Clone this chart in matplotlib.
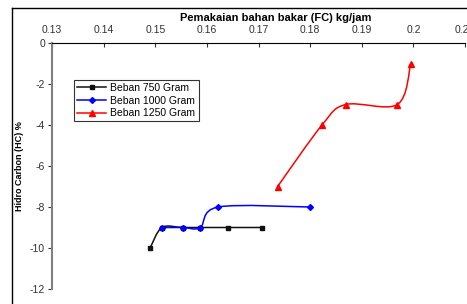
import numpy as np
import matplotlib
matplotlib.use('Agg')
import matplotlib.pyplot as plt
from matplotlib.path import Path
from matplotlib.patches import PathPatch
from matplotlib.lines import Line2D

plt.rcParams['font.family'] = ['Liberation Sans', 'DejaVu Sans']
plt.rcParams['axes.unicode_minus'] = False

# data
fc_750 = [0.1490, 0.1513, 0.1553, 0.1587, 0.1640, 0.1706]
hc_750 = [-10, -9, -9, -9, -9, -9]
fc_1000 = [0.1513, 0.1553, 0.1587, 0.1622, 0.1800]
hc_1000 = [-9, -9, -9, -8, -8]
fc_1250 = [0.1737, 0.1823, 0.1869, 0.1969, 0.1995]
hc_1250 = [-7, -4, -3, -3, -1]

x_ticks = [0.13, 0.14, 0.15, 0.16, 0.17, 0.18, 0.19, 0.2, 0.21]
x_labels = ['0.13', '0.14', '0.15', '0.16', '0.17', '0.18', '0.19', '0.2', '0.21']
y_ticks = [0, -2, -4, -6, -8, -10, -12]


def smooth_path(xs, ys):
    # Excel-style smoothed line: cubic bezier with catmull-rom tangents
    pts = np.column_stack([xs, ys]).astype(float)
    verts = [pts[0]]
    codes = [Path.MOVETO]
    n = len(pts)
    for i in range(n - 1):
        p0 = pts[i - 1] if i > 0 else pts[i]
        p1 = pts[i]
        p2 = pts[i + 1]
        p3 = pts[i + 2] if i + 2 < n else pts[i + 1]
        c1 = p1 + (p2 - p0) / 6.0
        c2 = p2 - (p3 - p1) / 6.0
        verts += [c1, c2, p2]
        codes += [Path.CURVE4] * 3
    return Path(verts, codes)


fig = plt.figure(figsize=(4.67, 3.04), dpi=100)
ax = fig.add_axes([52 / 467, 1 - 289 / 304, (465 - 52) / 467, (289 - 43) / 304])

series = [
    (fc_750, hc_750, '#111111', 's', 'Beban 750 Gram', 3.5),
    (fc_1000, hc_1000, '#0000ff', 'D', 'Beban 1000 Gram', 3),
    (fc_1250, hc_1250, '#ff0000', '^', 'Beban 1250 Gram', 4.5),
]
for xs, ys, c, m, lab, ms in series:
    ax.add_patch(PathPatch(smooth_path(xs, ys), facecolor='none', edgecolor=c, lw=1.1))
    ax.plot(xs, ys, linestyle='none', marker=m, color=c, markersize=ms)
    ax.plot([], [], color=c, marker=m, markersize=ms, lw=1.1, label=lab)

ax.set_xlim(0.13, 0.21)
ax.set_ylim(-12, 0)
ax.xaxis.tick_top()
ax.set_xticks(x_ticks)
ax.set_xticklabels(x_labels)
ax.set_yticks(y_ticks)
ax.tick_params(axis='x', direction='in', length=3, labelsize=7.5, colors='#333333', pad=6)
ax.tick_params(axis='y', direction='out', length=3, labelsize=7.5, colors='#333333', pad=2)
ax.spines['right'].set_visible(False)
ax.spines['bottom'].set_visible(False)
ax.spines['left'].set_color('#808080')
ax.spines['left'].set_linewidth(1.5)
ax.spines['top'].set_color('black')

ax.set_xlabel('Pemakaian bahan bakar (FC) kg/jam', fontsize=8, fontweight='bold')
ax.xaxis.set_label_position('top')
ax.xaxis.set_label_coords((276 - 52) / (465 - 52), 1 + (43 - 21) / 246)
ax.set_ylabel('Hidro Carbon (HC) %', fontsize=6.5, fontweight='bold')
ax.yaxis.set_label_coords(-(52 - 24) / 413, 0.5)

leg = ax.legend(loc='upper left', bbox_to_anchor=((74 - 52) / 413, 1 - (80 - 43) / 246),
                fontsize=7.5, frameon=True, fancybox=False, borderpad=0.3,
                labelspacing=0.25, handlelength=2.8, handletextpad=0.4, borderaxespad=0)
leg.get_frame().set_edgecolor('black')
leg.get_frame().set_linewidth(0.8)

# outer chart frame
fig.add_artist(Line2D([12 / 467, 12 / 467], [0, 1 - 8 / 304], color='black', lw=1))
fig.add_artist(Line2D([12 / 467, 1], [1 - 8 / 304, 1 - 8 / 304], color='black', lw=1))

fig.savefig('out.png', dpi=100)
